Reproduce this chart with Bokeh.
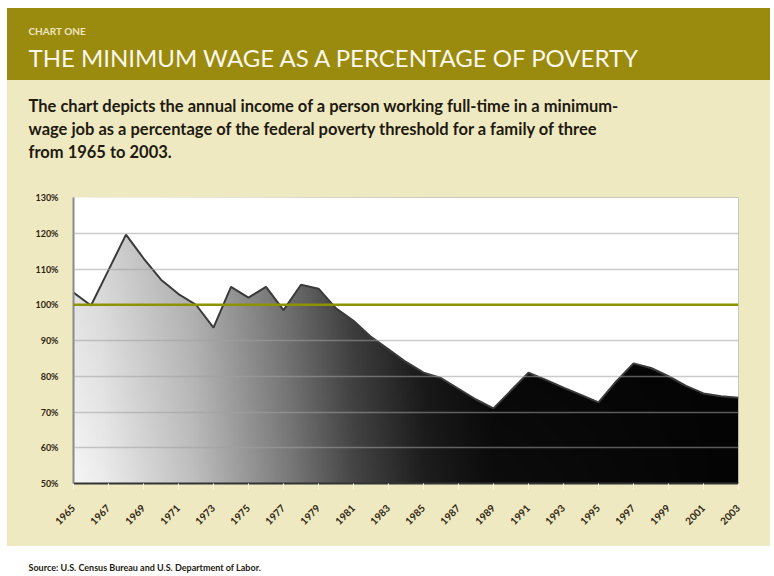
import numpy as np
from bokeh.plotting import figure
from bokeh.models import Title, FixedTicker, Span
from bokeh.layouts import column
from bokeh.embed import file_html
from bokeh.resources import INLINE

# ---------------- data ----------------
years = list(range(1965, 2004))
pct = [103.4, 99.8, 109.7, 119.6, 113.0, 107.0, 103.0, 100.0, 93.6, 105.0,
       102.0, 105.0, 98.5, 105.6, 104.5, 99.0, 95.5, 91.0, 87.5, 84.0,
       81.0, 79.5, 76.5, 73.5, 71.0, 76.0, 81.0, 79.0, 76.8, 74.8,
       72.7, 78.5, 83.6, 82.3, 80.0, 77.3, 75.2, 74.4, 74.0]
x_ticks = list(range(1965, 2004, 2))
x_labels = [str(y) for y in x_ticks]
y_ticks = [50, 60, 70, 80, 90, 100, 110, 120, 130]
y_labels = ["50%", "60%", "70%", "80%", "90%", "100%", "110%", "120%", "130%"]
grid_levels = [60, 70, 80, 90, 110, 120]
reference_level = 100

kicker = "CHART ONE"
headline = "THE MINIMUM WAGE AS A PERCENTAGE OF POVERTY"
desc_lines = [
    "The chart depicts the annual income of a person working full-time in a minimum-",
    "wage job as a percentage of the federal poverty threshold for a family of three",
    "from 1965 to 2003.",
]
source = "Source: U.S. Census Bureau and U.S. Department of Labor."

OLIVE = "#9a8a0e"
BEIGE = "#efe9c2"
W = 763
BL, BR = 66, 32     # frame borders shared by all stacked figures
TEXT_OFF = -45      # text starts left of the frame


def text_strip(height, top, fill):
    f = figure(width=W, height=height, toolbar_location=None, output_backend="svg",
               x_range=(0, 1), y_range=(0, 1),
               min_border_left=BL, min_border_right=BR, min_border_top=top,
               min_border_bottom=height - top - 1,
               background_fill_color=None, border_fill_color=None,
               outline_line_color=None, styles={"background-color": fill})
    f.axis.visible = False
    f.grid.visible = False
    return f


# ---------------- header ----------------
hdr = text_strip(72, 63, OLIVE)
hdr.add_layout(Title(text=headline, text_font="Lato", text_font_size="24px",
                     text_font_style="normal", text_color="#fbf7ea",
                     align="left", offset=TEXT_OFF, standoff=0), "above")
hdr.add_layout(Title(text=kicker, text_font="Lato", text_font_size="10px",
                     text_font_style="bold", text_color="#efe6c0",
                     align="left", offset=TEXT_OFF, standoff=8), "above")

# ---------------- description ----------------
desc = text_strip(83, 82, BEIGE)
for line in reversed(desc_lines):
    desc.add_layout(Title(text=line, text_font="Lato", text_font_size="16.5px",
                          text_font_style="bold", text_color="#1e1a10",
                          align="left", offset=TEXT_OFF, standoff=1), "above")

# ---------------- main chart ----------------
p = figure(width=W, height=383, toolbar_location=None, output_backend="svg",
           x_range=(1965, 2003), y_range=(50, 130),
           min_border_left=BL, min_border_right=BR, min_border_top=34,
           min_border_bottom=63,
           background_fill_color="white", border_fill_color=BEIGE,
           outline_line_color=None)

# gradient fill under the curve (image masked by white above the line)
nx, ny = 400, 80
tx = np.linspace(0, 1, nx)
ty = np.linspace(0, 1, ny)
base = np.interp(tx, [0, 0.04, 0.18, 0.32, 0.42, 0.53, 0.63, 1.0],
                 [228, 220, 176, 112, 60, 21, 6, 4])
g = base[None, :] + 30 * (0.6 - ty[:, None]) * (1 - tx[None, :])
g = np.clip(g, 0, 250).astype(np.uint8)
img = np.empty((ny, nx), dtype=np.uint32)
view = img.view(dtype=np.uint8).reshape((ny, nx, 4))
view[..., 0] = g
view[..., 1] = g
view[..., 2] = g
view[..., 3] = 255
p.image_rgba(image=[img], x=years[0], y=y_ticks[0],
             dw=years[-1] - years[0], dh=y_ticks[-1] - y_ticks[0])
p.varea(x=years, y1=pct, y2=y_ticks[-1], fill_color="white")
p.line(years, pct, line_color="#3a3a3a", line_width=2)

p.add_layout(Span(location=reference_level, dimension="width",
                  line_color="#8e9400", line_width=2.5))

# grid
p.xgrid.visible = False
p.ygrid.ticker = FixedTicker(ticks=grid_levels)
p.ygrid.grid_line_color = "#a0a0a0"
p.ygrid.grid_line_alpha = 0.55
p.ygrid.grid_line_width = 1.5
p.ygrid.level = "overlay"

# axes
p.yaxis.ticker = FixedTicker(ticks=y_ticks)
p.yaxis.major_label_overrides = dict(zip(y_ticks, y_labels))
p.yaxis.axis_line_color = "#8a8a8a"
p.yaxis.axis_line_width = 2
p.yaxis.major_tick_line_color = None
p.yaxis.minor_tick_line_color = None
p.yaxis.major_label_text_font = "Lato"
p.yaxis.major_label_text_font_style = "bold"
p.yaxis.major_label_text_font_size = "9px"
p.yaxis.major_label_text_color = "#2e2510"
p.yaxis.major_label_standoff = 9

p.xaxis.ticker = FixedTicker(ticks=x_ticks)
p.xaxis.major_label_overrides = dict(zip(x_ticks, x_labels))
p.xaxis.major_label_orientation = np.pi / 4
p.xaxis.axis_line_color = "#333333"
p.xaxis.axis_line_width = 2
p.xaxis.major_tick_line_color = "#fbf8e0"
p.xaxis.major_tick_in = 0
p.xaxis.major_tick_out = 6
p.xaxis.minor_tick_line_color = None
p.xaxis.major_label_text_font = "Lato"
p.xaxis.major_label_text_font_style = "bold"
p.xaxis.major_label_text_font_size = "10px"
p.xaxis.major_label_text_color = "#2e2510"
p.xaxis.major_label_standoff = 17

# ---------------- source line ----------------
src = figure(width=W, height=30, toolbar_location=None, output_backend="svg",
             x_range=(0, 1), y_range=(0, 1),
             min_border_left=BL, min_border_right=BR, min_border_top=27,
             min_border_bottom=0,
             background_fill_color=None, border_fill_color=None,
             outline_line_color=None, styles={"background-color": "white"})
src.axis.visible = False
src.grid.visible = False
src.add_layout(Title(text=source, text_font="Lato", text_font_size="9px",
                     text_font_style="bold", text_color="#1e1a10",
                     align="left", offset=TEXT_OFF, standoff=1), "above")

layout = column(hdr, desc, p, src, spacing=0, margin=(8, 0, 0, 7),
                styles={"background-color": BEIGE})
open("out.html", "w").write(file_html(layout, INLINE))
